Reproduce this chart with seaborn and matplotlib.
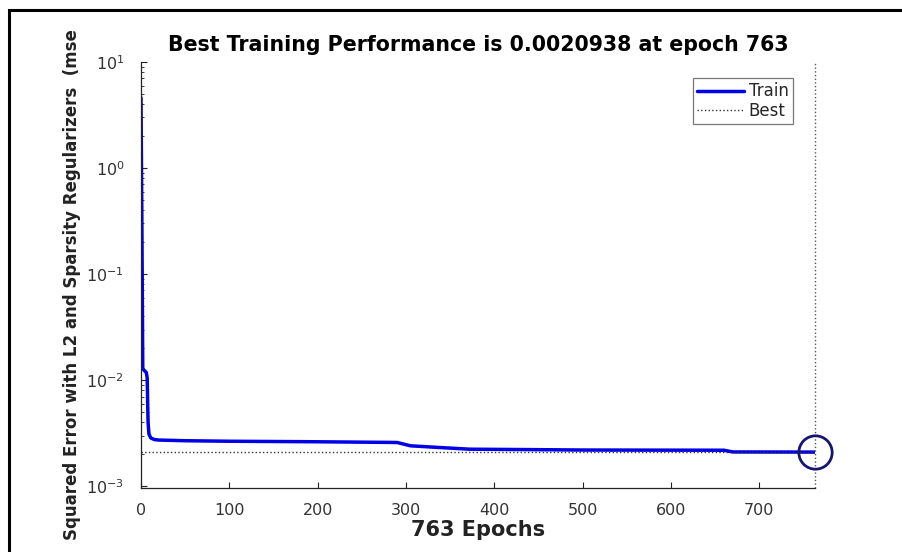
import numpy as np
import pandas as pd
import matplotlib
matplotlib.use("Agg")
import matplotlib.pyplot as plt
import seaborn as sns
from matplotlib.patches import Rectangle

# training record
epochs = [0, 1, 2, 3, 6, 7, 8, 9, 11, 15, 20, 50, 100, 200, 290, 305, 335, 372, 440, 500, 660, 670, 763]
perf = [4.6, 0.3, 0.013, 0.0125, 0.0118, 0.0105, 0.004, 0.0031, 0.00285, 0.00275, 0.00272,
        0.00268, 0.00265, 0.00262, 0.00258, 0.0024, 0.00232, 0.00223, 0.00221, 0.00219,
        0.00218, 0.0021, 0.0020938]
best_epoch = 763
best_perf = 0.0020938
xticks = [0, 100, 200, 300, 400, 500, 600, 700]

df = pd.DataFrame({"epoch": epochs, "perf": perf})

sns.set_style("white")
plt.rcParams["font.family"] = ["DejaVu Sans"]
plt.rcParams["axes.unicode_minus"] = False

fig = plt.figure(figsize=(9.03, 5.52), dpi=100)
ax = fig.add_axes([141 / 903, 1 - 488 / 552, (815 - 141) / 903, (488 - 62) / 552])

sns.lineplot(data=df, x="epoch", y="perf", ax=ax, color="#0000e6", linewidth=2.5,
             label="Train", legend=False)
ax.axhline(best_perf, color="#333333", linestyle=":", linewidth=1.0, label="Best")
ax.axvline(best_epoch, color="#555555", linestyle=":", linewidth=1.0, clip_on=False)
ax.plot([best_epoch], [best_perf], marker="o", markersize=24, markerfacecolor="none",
        markeredgecolor="#16166e", markeredgewidth=2, clip_on=False)

ax.set_yscale("log")
ax.set_xlim(0, 763)
ax.set_ylim(0.00096, 10)
ax.set_xticks(xticks)

for s in ["top", "right"]:
    ax.spines[s].set_visible(False)
for s in ["left", "bottom"]:
    ax.spines[s].set_color("#222222")
    ax.spines[s].set_linewidth(0.9)

ax.tick_params(axis="both", which="both", direction="in", colors="#222222",
               labelcolor="#333333", labelsize=11.5)
ax.tick_params(axis="x", which="major", length=4, pad=11, bottom=True)
ax.tick_params(axis="y", which="major", length=4, pad=12, left=True)
ax.tick_params(axis="y", which="minor", length=2.5, left=True)
ax.tick_params(axis="x", which="minor", bottom=False)

ax.set_title("Best Training Performance is 0.0020938 at epoch 763",
             fontsize=14.8, fontweight="bold", color="black", pad=8)
ax.set_xlabel("763 Epochs", fontsize=15, fontweight="bold", color="#222222", labelpad=1)
ax.set_ylabel("")
fig.text(72 / 903, 1 - 540 / 552, "Squared Error with L2 and Sparsity Regularizers  (mse",
         rotation=90, ha="center", va="bottom", fontsize=12, fontweight="bold", color="#222222")

leg = ax.legend(loc="upper right", bbox_to_anchor=(0.967, 0.962), borderaxespad=0,
                fontsize=12, handlelength=2.8, handletextpad=0.3, frameon=True,
                fancybox=False, edgecolor="#555555", borderpad=0.25, labelspacing=0.1)
leg.get_frame().set_linewidth(0.9)

# outer frame around the picture
fig.patches.append(Rectangle((9 / 903, -0.05), 1.2, 1 - 10 / 552 + 0.05, fill=False,
                             edgecolor="black", linewidth=2.2, transform=fig.transFigure))

fig.savefig("out.png", dpi=100)
